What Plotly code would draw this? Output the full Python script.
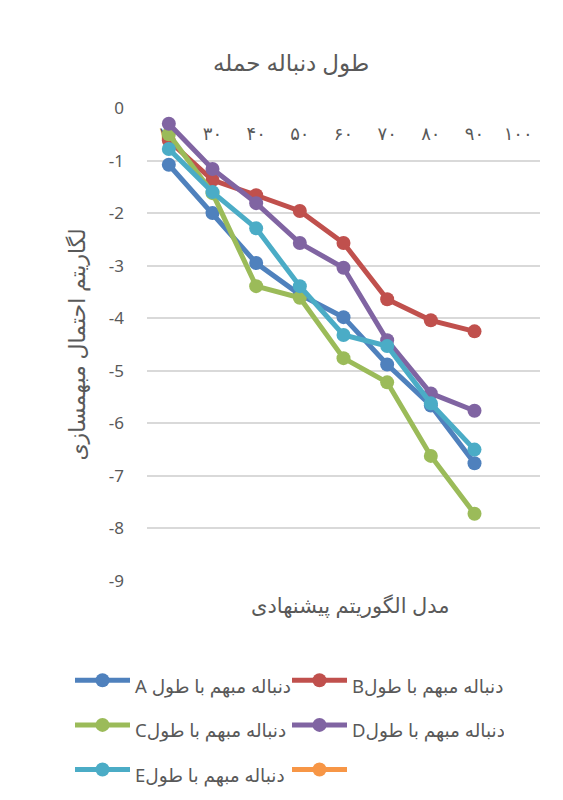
import plotly.graph_objects as go

categories = ["۲۰", "۳۰", "۴۰", "۵۰", "۶۰", "۷۰", "۸۰", "۹۰", "۱۰۰"]
series_a = [-1.08, -2.00, -2.95, -3.55, -3.98, -4.88, -5.66, -6.76, None]
series_b = [-0.62, -1.37, -1.66, -1.96, -2.57, -3.64, -4.04, -4.25, None]
series_c = [-0.50, -1.62, -3.39, -3.61, -4.76, -5.22, -6.62, -7.72, None]
series_d = [-0.30, -1.16, -1.81, -2.57, -3.04, -4.42, -5.43, -5.76, None]
series_e = [-0.78, -1.60, -2.29, -3.39, -4.32, -4.53, -5.62, -6.50, None]
series_f = [None] * 9

names = ["A دنباله مبهم با طول", "Bدنباله مبهم با طول", "Cدنباله مبهم با طول",
         "Dدنباله مبهم با طول", "Eدنباله مبهم با طول", ""]
colors = ["#4F81BD", "#C0504D", "#9BBB59", "#8064A2", "#4BACC6", "#F79646"]
values = [series_a, series_b, series_c, series_d, series_e, series_f]
y_ticks = [0, -1, -2, -3, -4, -5, -6, -7, -8, -9]

title_text = "طول دنباله حمله"
x_title = "مدل الگوریتم پیشنهادی"
y_title = "لگاریتم احتمال مبهمسازی"

FONT = "Noto Sans, DejaVu Sans, sans-serif"
TXT = "#595959"

fig = go.Figure()
for name, col, vals in zip(names, colors, values):
    fig.add_trace(go.Scatter(
        x=categories, y=vals,
        name='<span style="font-size:18.5px">' + name + '</span>',
        mode="lines+markers",
        line=dict(color=col, width=5),
        marker=dict(color=col, size=14),
        connectgaps=False,
    ))

fig.update_layout(
    width=563, height=800,
    margin=dict(l=147, r=23, t=108, b=219, autoexpand=False),
    paper_bgcolor="white", plot_bgcolor="white",
    font=dict(family=FONT, color=TXT, size=15),
    title=dict(text=title_text, x=0.517, xanchor="center", y=1 - 63 / 800,
               yanchor="middle", font=dict(size=23, color=TXT)),
    showlegend=True,
    legend=dict(orientation="h", xref="paper", yref="paper",
                x=(70 - 147) / 393, xanchor="left",
                y=(581 - 653) / 473, yanchor="top",
                entrywidth=147, entrywidthmode="pixels",
                font=dict(size=32, color=TXT), itemwidth=55,
                traceorder="normal"),
)

fig.update_xaxes(
    type="category", categoryorder="array", categoryarray=categories,
    range=[-0.5, 8.5], side="bottom", anchor="free", position=1,
    ticks="outside", ticklen=9, tickcolor="rgba(0,0,0,0)",
    showgrid=False, showline=False, zeroline=False,
    tickfont=dict(size=18, color=TXT), layer="below traces",
)
fig.update_yaxes(
    range=[-9, 0], tickmode="array", tickvals=y_ticks,
    ticktext=[str(v) for v in y_ticks],
    showgrid=True, gridcolor="#D9D9D9", gridwidth=1.5,
    zeroline=True, zerolinecolor="white", zerolinewidth=3,
    showline=False, ticklabelstandoff=22,
    tickfont=dict(size=17, color=TXT),
    title=dict(text=y_title, font=dict(size=22, color=TXT), standoff=17),
)

fig.add_annotation(text=x_title, xref="paper", yref="paper", x=0.517,
                   y=-24 / 473, xanchor="center", yanchor="middle",
                   showarrow=False, font=dict(size=21, color=TXT))

fig.write_html("out.html")
